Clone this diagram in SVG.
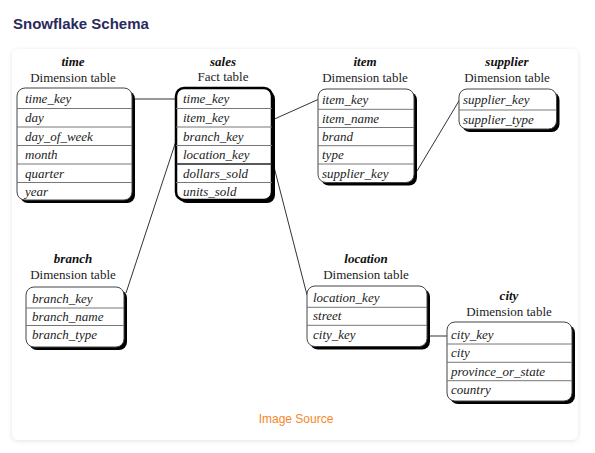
<svg xmlns="http://www.w3.org/2000/svg" width="595" height="453" viewBox="0 0 595 453">
<style>
.hdr{font-family:"Liberation Sans",Arial,sans-serif;font-weight:bold;font-size:15px;fill:#2b2a5c}
.src{font-family:"Liberation Sans",Arial,sans-serif;font-size:12px;fill:#f7862a}
.tname{font-family:"Liberation Serif","Times New Roman",serif;font-weight:bold;font-style:italic;font-size:13px;fill:#111;text-anchor:middle}
.tkind{font-family:"Liberation Serif","Times New Roman",serif;font-size:13px;fill:#222;text-anchor:middle}
.fld{font-family:"Liberation Serif","Times New Roman",serif;font-style:italic;font-size:13px;fill:#222}
.shadow{fill:#000}
.box{fill:#fff;stroke:#444;stroke-width:1}
.fact{fill:#fff;stroke:#000;stroke-width:2.5}
.row{stroke:#777;stroke-width:1}
.conn{stroke:#333;stroke-width:1;fill:none}
</style>
<defs>
<filter id="cardsh" x="-5%" y="-5%" width="110%" height="110%">
<feGaussianBlur in="SourceAlpha" stdDeviation="2.5"/>
<feOffset dy="1" result="b"/>
<feComponentTransfer><feFuncA type="linear" slope="0.12"/></feComponentTransfer>
<feMerge><feMergeNode/><feMergeNode in="SourceGraphic"/></feMerge>
</filter>
</defs>
<rect width="595" height="453" fill="#fff"/>
<text class="hdr" x="13" y="29">Snowflake Schema</text>
<rect x="12" y="49" width="566" height="391" rx="6" fill="#fff" filter="url(#cardsh)"/>

<g id="connectors">
<line class="conn" x1="135" y1="99" x2="176" y2="99"/>
<line class="conn" x1="274.5" y1="119" x2="318" y2="99.5"/>
<line class="conn" x1="176" y1="141" x2="126" y2="293"/>
<line class="conn" x1="273" y1="163" x2="307" y2="295"/>
<line class="conn" x1="417" y1="171" x2="459.5" y2="100"/>
<line class="conn" x1="429" y1="336" x2="447" y2="336"/>
</g>

<g id="time">
<text class="tname" x="73" y="65.5">time</text>
<text class="tkind" x="73" y="81.5">Dimension table</text>
<rect class="shadow" x="20" y="91" width="115" height="112" rx="8"/>
<rect class="box" x="17" y="88" width="115" height="112" rx="8"/>
<line class="row" x1="17" y1="108.5" x2="132" y2="108.5"/>
<line class="row" x1="17" y1="127" x2="132" y2="127"/>
<line class="row" x1="17" y1="145.5" x2="132" y2="145.5"/>
<line class="row" x1="17" y1="164" x2="132" y2="164"/>
<line class="row" x1="17" y1="182.5" x2="132" y2="182.5"/>
<text class="fld" x="25" y="103">time_key</text>
<text class="fld" x="25" y="122">day</text>
<text class="fld" x="25" y="140.5">day_of_week</text>
<text class="fld" x="25" y="159">month</text>
<text class="fld" x="25" y="177.5">quarter</text>
<text class="fld" x="25" y="195.5">year</text>
</g>

<g id="sales">
<text class="tname" x="223" y="65.5">sales</text>
<text class="tkind" x="223" y="81">Fact table</text>
<rect class="shadow" x="179" y="91" width="96" height="112" rx="8"/>
<rect class="fact" x="176" y="88" width="96" height="112" rx="8"/>
<line class="row" x1="176" y1="108.5" x2="272" y2="108.5"/>
<line class="row" x1="176" y1="127" x2="272" y2="127"/>
<line class="row" x1="176" y1="145.5" x2="272" y2="145.5"/>
<line x1="176" y1="164" x2="272" y2="164" stroke="#222" stroke-width="1.5"/>
<line class="row" x1="176" y1="182.5" x2="272" y2="182.5"/>
<text class="fld" x="183" y="103">time_key</text>
<text class="fld" x="183" y="122">item_key</text>
<text class="fld" x="183" y="140.5">branch_key</text>
<text class="fld" x="183" y="159">location_key</text>
<text class="fld" x="183" y="177.5">dollars_sold</text>
<text class="fld" x="183" y="195.5">units_sold</text>
</g>

<g id="item">
<text class="tname" x="365" y="66">item</text>
<text class="tkind" x="365" y="82">Dimension table</text>
<rect class="shadow" x="321" y="92" width="96" height="93.5" rx="8"/>
<rect class="box" x="318" y="89" width="96" height="93.5" rx="8"/>
<line class="row" x1="318" y1="109.3" x2="414" y2="109.3"/>
<line class="row" x1="318" y1="127.5" x2="414" y2="127.5"/>
<line class="row" x1="318" y1="145.7" x2="414" y2="145.7"/>
<line class="row" x1="318" y1="164" x2="414" y2="164"/>
<text class="fld" x="322" y="104">item_key</text>
<text class="fld" x="322" y="122.5">item_name</text>
<text class="fld" x="322" y="140.5">brand</text>
<text class="fld" x="322" y="159">type</text>
<text class="fld" x="322" y="177.5">supplier_key</text>
</g>

<g id="supplier">
<text class="tname" x="507" y="66">supplier</text>
<text class="tkind" x="507" y="82">Dimension table</text>
<rect class="shadow" x="462" y="92" width="97.5" height="40" rx="8"/>
<rect class="box" x="459" y="89" width="97.5" height="40" rx="8"/>
<line class="row" x1="459" y1="110" x2="556.5" y2="110"/>
<text class="fld" x="463" y="104">supplier_key</text>
<text class="fld" x="463" y="123.5">supplier_type</text>
</g>

<g id="branch">
<text class="tname" x="73" y="263">branch</text>
<text class="tkind" x="73" y="278.5">Dimension table</text>
<rect class="shadow" x="29" y="290" width="98" height="60" rx="8"/>
<rect class="box" x="26" y="287" width="98" height="60" rx="8"/>
<line class="row" x1="26" y1="308" x2="124" y2="308"/>
<line class="row" x1="26" y1="325.5" x2="124" y2="325.5"/>
<text class="fld" x="32" y="302.5">branch_key</text>
<text class="fld" x="32" y="320.5">branch_name</text>
<text class="fld" x="32" y="339">branch_type</text>
</g>

<g id="location">
<text class="tname" x="366" y="263">location</text>
<text class="tkind" x="366" y="278.5">Dimension table</text>
<rect class="shadow" x="310" y="289" width="120" height="60.5" rx="8"/>
<rect class="box" x="307" y="286" width="120" height="60.5" rx="8"/>
<line class="row" x1="307" y1="307.3" x2="427" y2="307.3"/>
<line class="row" x1="307" y1="325.3" x2="427" y2="325.3"/>
<text class="fld" x="313" y="302">location_key</text>
<text class="fld" x="313" y="320">street</text>
<text class="fld" x="313" y="338.5">city_key</text>
</g>

<g id="city">
<text class="tname" x="509" y="300">city</text>
<text class="tkind" x="509" y="315.5">Dimension table</text>
<rect class="shadow" x="450" y="325" width="125" height="79" rx="8"/>
<rect class="box" x="447" y="322" width="125" height="79" rx="8"/>
<line class="row" x1="447" y1="344" x2="572" y2="344"/>
<line class="row" x1="447" y1="362.3" x2="572" y2="362.3"/>
<line class="row" x1="447" y1="380.7" x2="572" y2="380.7"/>
<text class="fld" x="451" y="338.5">city_key</text>
<text class="fld" x="451" y="357">city</text>
<text class="fld" x="451" y="375.5">province_or_state</text>
<text class="fld" x="451" y="394">country</text>
</g>

<text class="src" x="296" y="423" text-anchor="middle">Image Source</text>
</svg>
